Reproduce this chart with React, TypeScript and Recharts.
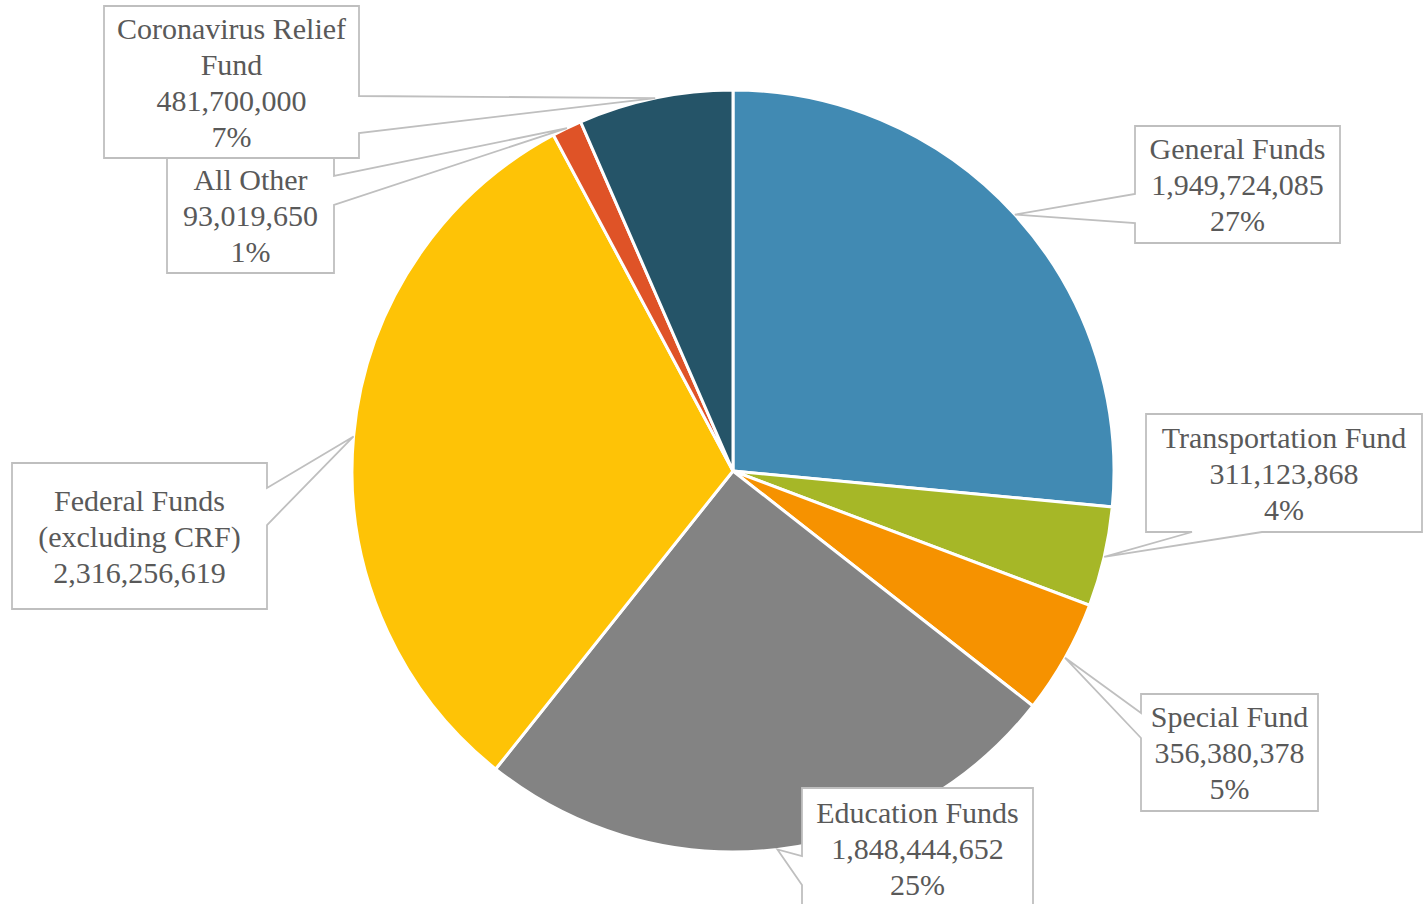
import { PieChart, Pie, Cell } from 'recharts';

// slice data, clockwise from 12 o'clock
const categories = [
  'General Funds',
  'Transportation Fund',
  'Special Fund',
  'Education Funds',
  'Federal Funds\n(excluding CRF)',
  'All Other',
  'Coronavirus Relief\nFund',
];
const amounts = [
  1949724085, 311123868, 356380378, 1848444652, 2316256619, 93019650, 481700000,
];
const showPercent = [true, true, true, true, false, true, true];

const colors = ['#418AB3', '#A6B727', '#F69200', '#838383', '#FEC306', '#DF5327', '#255468'];

const CX = 733;
const CY = 471;
const RADIUS = 381;

// callout boxes, offsets from pie centre; a/b = wedge base along the chosen side
const boxes = [
  { dx: 402, dy: -345, w: 205, h: 117, side: 'left', a: 68, b: 97 },
  { dx: 413, dy: -57, w: 276, h: 118, side: 'bottom', a: 46, b: 116 },
  { dx: 408, dy: 223, w: 177, h: 117, side: 'left', a: 19, b: 44 },
  { dx: 69, dy: 317, w: 231, h: 120, side: 'left', a: 68, b: 97 },
  { dx: -721, dy: -8, w: 255, h: 146, side: 'right', a: 25, b: 62 },
  { dx: -566, dy: -314, w: 167, h: 116, side: 'right', a: 19, b: 48 },
  { dx: -629, dy: -465, w: 255, h: 152, side: 'right', a: 90, b: 127 },
];

const data = categories.map((name, i) => ({ name, value: amounts[i] }));
const total = amounts.reduce((s, v) => s + v, 0);

const RAD = Math.PI / 180;

function calloutPath(x: number, y: number, w: number, h: number, side: string, a: number, b: number, tx: number, ty: number) {
  if (side === 'left') {
    return `M${x},${y} L${x + w},${y} L${x + w},${y + h} L${x},${y + h} L${x},${y + b} L${tx},${ty} L${x},${y + a} Z`;
  }
  if (side === 'right') {
    return `M${x},${y} L${x + w},${y} L${x + w},${y + a} L${tx},${ty} L${x + w},${y + b} L${x + w},${y + h} L${x},${y + h} Z`;
  }
  return `M${x},${y} L${x + w},${y} L${x + w},${y + h} L${x + b},${y + h} L${tx},${ty} L${x + a},${y + h} L${x},${y + h} Z`;
}

const renderLabel = (props: any) => {
  const { cx, cy, midAngle, outerRadius, index } = props;
  const box = boxes[index];
  const tx = cx + Math.cos(-midAngle * RAD) * outerRadius;
  const ty = cy + Math.sin(-midAngle * RAD) * outerRadius;
  const x = cx + box.dx;
  const y = cy + box.dy;
  const lines = [...categories[index].split('\n'), amounts[index].toLocaleString('en-US')];
  if (showPercent[index]) lines.push(Math.round((amounts[index] / total) * 100) + '%');
  const midY = y + box.h / 2;
  const lh = 36;
  return (
    <g key={`lbl-${index}`}>
      <path
        d={calloutPath(x, y, box.w, box.h, box.side, box.a, box.b, tx, ty)}
        fill="#ffffff"
        stroke="#BFBFBF"
        strokeWidth={1.8}
      />
      {lines.map((t, j) => (
        <text
          key={j}
          x={x + box.w / 2}
          y={midY + (j - (lines.length - 1) / 2) * lh}
          textAnchor="middle"
          dominantBaseline="central"
          fill="#595959"
          fontSize={30}
          fontFamily="'Liberation Serif', serif"
        >
          {t}
        </text>
      ))}
    </g>
  );
};

export default function App() {
  return (
    <div style={{ position: 'absolute', left: 0, top: 0, background: '#ffffff' }}>
      <PieChart width={1423} height={904} margin={{ top: 0, right: 0, bottom: 0, left: 0 }}>
        <Pie
          data={data}
          dataKey="value"
          nameKey="name"
          cx={CX}
          cy={CY}
          outerRadius={RADIUS}
          startAngle={90}
          endAngle={-270}
          stroke="#ffffff"
          strokeWidth={3}
          label={renderLabel}
          labelLine={false}
          isAnimationActive={false}
        >
          {data.map((d, i) => (
            <Cell key={d.name} fill={colors[i]} />
          ))}
        </Pie>
      </PieChart>
    </div>
  );
}
